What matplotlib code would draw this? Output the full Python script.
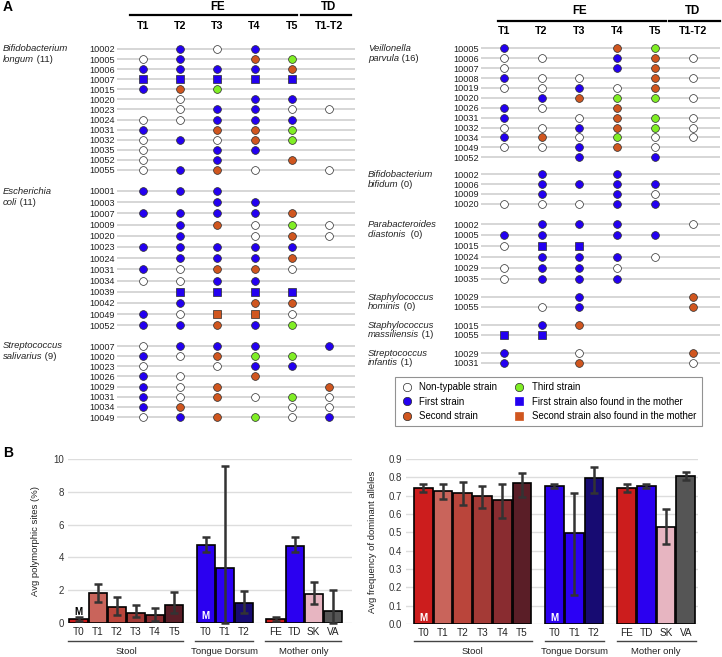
import matplotlib
matplotlib.use('Agg')
import matplotlib.pyplot as plt
from matplotlib.lines import Line2D
import matplotlib.transforms as mtransforms

plt.rcParams['font.family'] = ['Liberation Sans', 'DejaVu Sans']

# ------------------------------------------------------------------ data (panel A)
# cell codes: '.' none, 'n' non-typable, '1' first, '2' second, '3' third,
#             'A' first strain also in mother, 'B' second strain also in mother
fe_columns = ['T1', 'T2', 'T3', 'T4', 'T5']
td_columns = ['T1-T2']

b_longum_ids = ['10002', '10005', '10006', '10007', '10015', '10020', '10023',
                '10024', '10031', '10032', '10035', '10052', '10055']
b_longum_cells = ['.1n1..', 'n1.23.', '11112.', 'AAAAA.', '123...', '.n.11.', '.n11nn',
                  'nn111.', '1.223.', 'n1n23.', 'n.11..', 'n.1.2.', 'n12n.n']

e_coli_ids = ['10001', '10003', '10007', '10009', '10020', '10023', '10024',
              '10031', '10034', '10039', '10042', '10049', '10052']
e_coli_cells = ['111...', '..11..', '11112.', '.12n3n', '.1.n2n', '11111.', '.1112.',
                '1n22n.', 'nn11..', '.AAAA.', '.1.22.', '1nBBn.', '11213.']

s_salivarius_ids = ['10007', '10020', '10023', '10026', '10029', '10031', '10034', '10049']
s_salivarius_cells = ['n111.1', '1n233.', 'n.n11.', '1n.2..', '1n2..2', '1n2n3n', '12..nn', 'n123n1']

v_parvula_ids = ['10005', '10006', '10007', '10008', '10019', '10020', '10026',
                 '10031', '10032', '10034', '10049', '10052']
v_parvula_cells = ['1..23.', 'nn.12n', 'n..12.', '1nn.2n', 'nn1n2.', '.1233n', '1n.2..',
                   '1.n23n', 'nn123n', '12n3nn', 'nn12n.', '..1.1.']

b_bifidum_ids = ['10002', '10006', '10009', '10020']
b_bifidum_cells = ['.1.1..', '.1111.', '.1.1n.', 'nnn11.']

p_diastonis_ids = ['10002', '10005', '10015', '10024', '10029', '10035']
p_diastonis_cells = ['.111.n', '11.11.', 'nAA...', '.111n.', 'n11n..', 'n111..']

s_hominis_ids = ['10029', '10055']
s_hominis_cells = ['..1..2', '.n1..2']

s_massiliensis_ids = ['10015', '10055']
s_massiliensis_cells = ['.12...', 'AA....']

s_infantis_ids = ['10029', '10031']
s_infantis_cells = ['1.n..2', '1.2..n']

genus_names = ['Bifidobacterium', 'Escherichia', 'Streptococcus', 'Veillonella',
               'Bifidobacterium', 'Parabacteroides', 'Staphylococcus', 'Staphylococcus',
               'Streptococcus']
species_names = ['longum', 'coli', 'salivarius', 'parvula', 'bifidum', 'diastonis ',
                 'hominis', 'massiliensis', 'infantis']
species_counts = ['(11)', '(11)', '(9)', '(16)', '(0)', '(0)', '(0)', '(1)', '(1)']

legend_labels = ['Non-typable strain', 'First strain', 'Second strain', 'Third strain',
                 'First strain also found in the mother', 'Second strain also found in the mother']

# ------------------------------------------------------------------ data (panel B)
group_names = ['Stool', 'Tongue Dorsum', 'Mother only']
group_ticks = [['T0', 'T1', 'T2', 'T3', 'T4', 'T5'], ['T0', 'T1', 'T2'], ['FE', 'TD', 'SK', 'VA']]

poly_mean = [0.25, 1.8, 0.98, 0.63, 0.47, 1.12, 4.76, 3.38, 1.25, 0.22, 4.72, 1.78, 0.72]
poly_low = [0.15, 1.3, 0.47, 0.35, 0.12, 0.59, 4.31, 0.0, 0.61, 0.12, 4.31, 1.16, 0.0]
poly_high = [0.37, 2.35, 1.58, 1.1, 0.9, 1.86, 5.22, 9.58, 1.98, 0.35, 5.22, 2.48, 1.99]

dom_mean = [0.741, 0.723, 0.714, 0.696, 0.676, 0.769, 0.752, 0.495, 0.796, 0.741, 0.752, 0.530, 0.807]
dom_low = [0.718, 0.681, 0.647, 0.632, 0.579, 0.692, 0.741, 0.160, 0.714, 0.721, 0.740, 0.439, 0.787]
dom_high = [0.765, 0.761, 0.772, 0.754, 0.765, 0.825, 0.765, 0.714, 0.856, 0.765, 0.765, 0.625, 0.827]

# ------------------------------------------------------------------ styles
W, H = 722, 657
fig = plt.figure(figsize=(W / 100, H / 100), dpi=100)

BLUE = '#2300f0'
ORANGE = '#d0561f'
GREEN = '#80ee25'
EDGE = '#2a2a2a'
LINE_GREY = '#cfcfcf'

MARK = {
    'n': ('o', 'white'),
    '1': ('o', BLUE),
    '2': ('o', ORANGE),
    '3': ('o', GREEN),
    'A': ('s', BLUE),
    'B': ('s', ORANGE),
}
bar_colors = ['#cc1d1d', '#c9645b', '#ba453b', '#a43a36', '#892c30', '#5a1e27',
              '#2b00f0', '#2b00f5', '#170b72',
              '#cc1d1d', '#2b00f0', '#e7b5c1', '#555555']


def fx(x):
    return x / W


def fy(y):
    return 1 - y / H


def px_axes(x0, y0, x1, y1):
    return fig.add_axes([x0 / W, 1 - y1 / H, (x1 - x0) / W, (y1 - y0) / H])


# ------------------------------------------------------------------ panel A
groups = [
    (b_longum_ids, b_longum_cells), (e_coli_ids, e_coli_cells), (s_salivarius_ids, s_salivarius_cells),
    (v_parvula_ids, v_parvula_cells), (b_bifidum_ids, b_bifidum_cells), (p_diastonis_ids, p_diastonis_cells),
    (s_hominis_ids, s_hominis_cells), (s_massiliensis_ids, s_massiliensis_cells), (s_infantis_ids, s_infantis_cells),
]
# layout: side, first row centre (px), row spacing (px)
group_layout = [
    ('L', 49.0, 10.08), ('L', 191.0, 11.2), ('L', 346.0, 10.15),
    ('R', 48.3, 9.9), ('R', 174.3, 9.8), ('R', 224.0, 10.95),
    ('R', 297.0, 9.7), ('R', 325.3, 9.4), ('R', 353.3, 9.4),
]
side_geom = {
    'L': dict(x0=117, x1=355, xlim=(-0.7, 5.7), label_x=3),
    'R': dict(x0=481, x1=720, xlim=(-0.6, 5.72), label_x=368),
}

top_axes = {}
for gi, ((ids, cells), (side, y_first, step)) in enumerate(zip(groups, group_layout)):
    g = side_geom[side]
    n = len(ids)
    ax = px_axes(g['x0'], y_first - step / 2, g['x1'], y_first - step / 2 + n * step)
    ax.set_xlim(*g['xlim'])
    ax.set_ylim(n - 0.5, -0.5)
    for s in ax.spines.values():
        s.set_visible(False)
    ax.set_xticks([])
    ax.set_yticks(range(n))
    ax.set_yticklabels(ids, fontsize=6.6, color='#222222')
    ax.tick_params(axis='y', length=0, pad=1.5)
    ax.patch.set_alpha(0)
    for i in range(n):
        ax.axhline(i, color=LINE_GREY, lw=1.2, zorder=1)
    for i, row in enumerate(cells):
        for j, c in enumerate(row):
            if c == '.':
                continue
            m, col = MARK[c]
            ax.plot(j, i, marker=m, ms=5.6, mfc=col, mec=EDGE, mew=0.5, ls='none', zorder=3)
    # species label
    tr = mtransforms.blended_transform_factory(fig.transFigure, ax.transData)
    ax.text(fx(g['label_x']), 0, genus_names[gi], transform=tr, fontsize=6.8,
            style='italic', va='center', ha='left', color='#222222')
    t2 = ax.text(fx(g['label_x']), 1, species_names[gi], transform=tr, fontsize=6.8,
                 style='italic', va='center', ha='left', color='#222222')
    ax.annotate(' ' + species_counts[gi], xy=(1, 0), xycoords=t2, va='bottom', ha='left',
                fontsize=6.8, color='#222222')
    if side not in top_axes:
        top_axes[side] = ax

# headers
header_geom = {
    'L': dict(fe_y=7, line_y=15, col_y=26, fe_line=(-0.35, 4.15), td_line=(4.25, 5.6)),
    'R': dict(fe_y=11, line_y=21, col_y=31, fe_line=(-0.16, 4.29), td_line=(4.37, 5.71)),
}
for side, ax in top_axes.items():
    hg = header_geom[side]
    tr = mtransforms.blended_transform_factory(ax.transData, fig.transFigure)
    for j, name in enumerate(fe_columns + td_columns):
        ax.text(j, fy(hg['col_y']), name, transform=tr, ha='center', va='center',
                fontsize=7.7, fontweight='bold', clip_on=False)
    ax.plot(hg['fe_line'], [fy(hg['line_y'])] * 2, transform=tr, color='black', lw=1.6, clip_on=False)
    ax.plot(hg['td_line'], [fy(hg['line_y'])] * 2, transform=tr, color='black', lw=1.6, clip_on=False)
    ax.text((len(fe_columns) - 1) / 2, fy(hg['fe_y']), 'FE', transform=tr, ha='center', va='center',
            fontsize=8.3, fontweight='bold', clip_on=False)
    ax.text(len(fe_columns), fy(hg['fe_y']), 'TD', transform=tr, ha='center', va='center',
            fontsize=8.3, fontweight='bold', clip_on=False)

# legend
handles = []
for code in ['n', '1', '2', '3', 'A', 'B']:
    m, col = MARK[code]
    handles.append(Line2D([], [], marker=m, ms=6, mfc=col, mec=EDGE if m == 'o' else col,
                          mew=0.5, ls='none'))
leg = fig.legend(handles, legend_labels, ncol=2, loc='upper left',
                 bbox_to_anchor=(fx(395), fy(377)), frameon=True, fancybox=False,
                 fontsize=6.9, handletextpad=0.6, columnspacing=1.6, borderpad=0.55,
                 labelspacing=0.45, handlelength=1.4, borderaxespad=0)
leg.get_frame().set_edgecolor('#777777')
leg.get_frame().set_linewidth(0.8)

fig.text(fx(3), fy(7), 'A', fontsize=10, fontweight='bold', va='center', ha='left')
fig.text(fx(3), fy(453), 'B', fontsize=10, fontweight='bold', va='center', ha='left')

# ------------------------------------------------------------------ panel B
group_gap = 1.65
positions = []
group_spans = []
start = 0.0
for ticks in group_ticks:
    p = [start + k for k in range(len(ticks))]
    positions.extend(p)
    group_spans.append((p[0], p[-1]))
    start = p[-1] + group_gap
tick_labels = [t for ticks in group_ticks for t in ticks]


def bar_panel(ax, mean, low, high, ylim, yticks, yfmt, ylabel, span_pad, m_marks):
    ax.bar(positions, mean, width=0.95, color=bar_colors, edgecolor='black', lw=1.2, zorder=2)
    ax.errorbar(positions, mean, yerr=[[m - l for m, l in zip(mean, low)],
                                       [h - m for m, h in zip(mean, high)]],
                fmt='none', ecolor='#333333', elinewidth=1.8, capsize=2.8, capthick=1.8,
                zorder=3, clip_on=False)
    ax.set_ylim(*ylim)
    ax.set_yticks(yticks)
    ax.set_yticklabels([yfmt.format(v) for v in yticks], fontsize=7, color='#333333')
    ax.grid(axis='y', color='#dddddd', lw=1, zorder=0)
    ax.set_axisbelow(True)
    for s in ax.spines.values():
        s.set_visible(False)
    ax.tick_params(axis='both', length=0)
    ax.tick_params(axis='y', pad=3)
    ax.tick_params(axis='x', pad=3)
    ax.set_xticks(positions)
    ax.set_xticklabels(tick_labels, fontsize=7.2, color='#222222')
    ax.set_ylabel(ylabel, fontsize=6.8, color='#222222')
    ax.yaxis.set_label_coords(-0.099, 0.5)
    tr = mtransforms.blended_transform_factory(ax.transData, fig.transFigure)
    for (a, b), name in zip(group_spans, group_names):
        ax.plot([a - span_pad[0], b + span_pad[1]], [fy(641)] * 2, transform=tr,
                color='#444444', lw=1.0, clip_on=False)
        ax.text((a + b) / 2, fy(651), name, transform=tr, ha='center', va='center',
                fontsize=6.8, color='#222222')
    for idx, yv, col in m_marks:
        ax.text(positions[idx], yv, 'M', ha='center', va='center', fontsize=7,
                fontweight='bold', color=col, zorder=4)


ax1 = px_axes(68, 459, 352, 623)
ax1.set_xlim(-0.55, 14.3)
bar_panel(ax1, poly_mean, poly_low, poly_high, (0, 10), [0, 2, 4, 6, 8, 10], '{:d}',
          'Avg polymorphic sites (%)', (0.55, 0.45),
          [(0, 0.7, 'black'), (6, 0.45, 'white')])

ax2 = px_axes(406, 459, 698, 624)
ax2.set_xlim(-0.87, 13.92)
bar_panel(ax2, dom_mean, dom_low, dom_high, (0, 0.9), [i / 10 for i in range(10)], '{:.1f}',
          'Avg frequency of dominant alleles', (0.47, 0.5),
          [(0, 0.035, 'white'), (6, 0.035, 'white')])

fig.savefig('out.png', dpi=100)
